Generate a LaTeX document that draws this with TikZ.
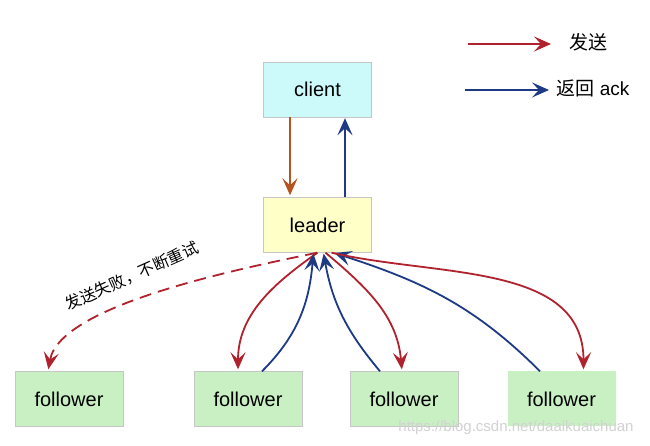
\documentclass[tikz,border=0pt]{standalone}
\usepackage{fontspec}
\setmainfont{Liberation Sans}
\newfontfamily\cjk{Noto Sans CJK SC}
\usepackage{xcolor}
\usepackage{tikz}
\usetikzlibrary{arrows.meta}
\definecolor{sendred}{HTML}{B0222E}
\definecolor{ackblue}{HTML}{1E3A85}
\definecolor{reqbrown}{HTML}{B5541E}
\definecolor{clientfill}{HTML}{CCFAFA}
\definecolor{leaderfill}{HTML}{FFFFC8}
\definecolor{followerfill}{HTML}{C8F0C3}

\tikzset{
  tip/.style={-{Stealth[length=17pt,width=15pt,inset=7pt]}},
  send/.style={tip, sendred, line width=1.8pt, shorten >=2pt},
  ack/.style={tip, ackblue, line width=1.8pt, shorten >=1pt},
}

\begin{document}
\begin{tikzpicture}[x=1pt,y=1pt,
  box/.style={draw=gray!45, minimum width=108pt, minimum height=55pt,
    font=\fontsize{20}{24}\selectfont}]
  \useasboundingbox[fill=white] (0,0) rectangle (650,446);

  % nodes
  \node[box, fill=clientfill]   (client) at (317.5,356.5) {client};
  \node[box, fill=leaderfill]   (leader) at (317.5,221)   {leader};
  \node[box, fill=followerfill] (f1) at (69,47)    {follower};
  \node[box, fill=followerfill] (f2) at (248,47)   {follower};
  \node[box, fill=followerfill] (f3) at (404,47)   {follower};
  \node[box, fill=followerfill, draw=none] (f4) at (561.5,47) {follower};

  % client <-> leader
  \draw[tip, reqbrown, line width=1.8pt, shorten >=2pt]
    ([xshift=-27.5pt]client.south) -- ([xshift=-27.5pt]leader.north);
  \draw[ack] ([xshift=27.5pt]leader.north) -- ([xshift=27.5pt]client.south);

  % leader <-> followers
  \draw[send, dash pattern=on 12pt off 7pt]
    ([xshift=-0.5pt]leader.south) to[out=192,in=80,looseness=0.6] ([xshift=-21pt]f1.north);
  \node[rotate=24, font=\cjk\fontsize{16}{18}\selectfont] (retry) at (132,170)
    {发送失败，不断重试};
  \draw[send] ([xshift=0pt]leader.south) to[out=215,in=90] ([xshift=-10pt]f2.north);
  \draw[ack] ([xshift=14pt]f2.north) to[out=45,in=265] ([xshift=-4pt]leader.south);
  \draw[ack] ([xshift=-24pt]f3.north) to[out=130,in=280] ([xshift=6pt]leader.south);
  \draw[send] ([xshift=8pt]leader.south) to[out=-40,in=95] ([xshift=-2pt]f3.north);
  \draw[ack] ([xshift=-21.5pt]f4.north) to[out=135,in=-18] ([xshift=16pt]leader.south);
  \draw[send] ([xshift=14pt]leader.south) to[out=-13,in=90] ([xshift=22pt]f4.north);

  % legend
  \coordinate (s0) at (468,402);
  \coordinate (s1) at (551,402);
  \coordinate (a0) at (465,356);
  \coordinate (a1) at (549,356);
  \draw[tip, sendred, line width=1.6pt] (s0) -- (s1);
  \draw[tip, ackblue, line width=1.6pt] (a0) -- (a1);
  \node[anchor=west, font=\cjk\fontsize{19}{22}\selectfont] (sendtxt) at (566,404) {发送};
  \node[anchor=west, font=\fontsize{19}{22}\selectfont] (acktxt) at (553,358) {{\cjk 返回} ack};

  % watermark
  \node[text=gray!35, font=\fontsize{15}{18}\selectfont] (mark) at (516,18)
    {https://blog.csdn.net/daaikuaichuan};
\end{tikzpicture}
\end{document}
